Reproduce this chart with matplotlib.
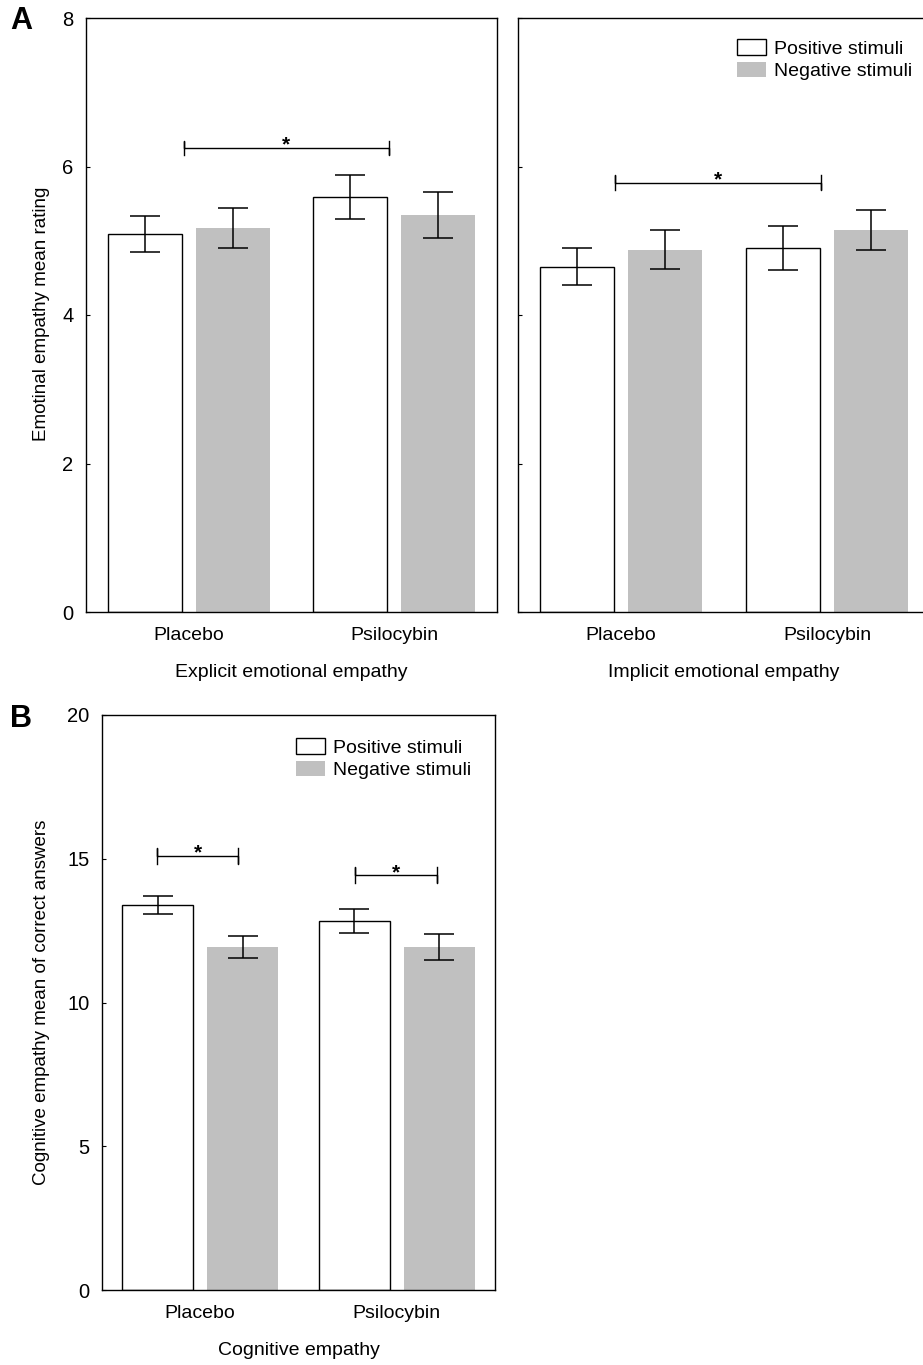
import matplotlib
matplotlib.use("Agg")
import matplotlib.pyplot as plt
from matplotlib.patches import Patch

plt.rcParams['font.family'] = ['Liberation Sans', 'DejaVu Sans']

# data
groups = ['Placebo', 'Psilocybin']
series = ['Positive stimuli', 'Negative stimuli']

explicit_pos = [5.09, 5.59]
explicit_pos_err = [0.24, 0.30]
explicit_neg = [5.17, 5.35]
explicit_neg_err = [0.27, 0.31]

implicit_pos = [4.65, 4.90]
implicit_pos_err = [0.25, 0.30]
implicit_neg = [4.88, 5.14]
implicit_neg_err = [0.26, 0.27]

cognitive_pos = [13.39, 12.83]
cognitive_pos_err = [0.31, 0.42]
cognitive_neg = [11.93, 11.93]
cognitive_neg_err = [0.38, 0.45]

W, H = 923, 1365
GRAY = '#c0c0c0'
FS = 14

fig = plt.figure(figsize=(W / 100, H / 100), dpi=100)


def px_axes(left, right, top, bottom):
    return fig.add_axes([left / W, 1 - bottom / H, (right - left) / W, (bottom - top) / H])


def bars(ax, pos, pos_err, neg, neg_err, off=0.213, width=0.36):
    x = [0, 1]
    ekw = dict(capsize=11, elinewidth=1.1, capthick=1.1, ecolor='black')
    ax.bar([i - off for i in x], pos, width, yerr=pos_err, color='white',
           edgecolor='black', linewidth=1.0, error_kw=ekw, zorder=2)
    ax.bar([i + off for i in x], neg, width, yerr=neg_err, color=GRAY,
           edgecolor='none', error_kw=ekw, zorder=2)
    ax.set_xlim(-0.5, 1.5)
    ax.set_xticks(x)
    ax.set_xticklabels(groups, fontsize=FS)
    ax.tick_params(axis='x', length=0, pad=11)
    ax.tick_params(axis='y', direction='in', length=3, labelsize=FS + 0.5, pad=9)
    for s in ax.spines.values():
        s.set_linewidth(1.0)


def bracket(ax, x0, x1, y, h):
    ax.plot([x0, x0, x0, x1, x1, x1], [y - h, y + h, y, y, y - h, y + h],
            color='black', lw=1.0, zorder=3)
    ax.annotate('*', xy=((x0 + x1) / 2, y), xytext=(0, -2), textcoords='offset points',
                ha='center', va='baseline', fontsize=FS + 1, fontweight='bold')


def legend(ax, x, y):
    handles = [Patch(facecolor='white', edgecolor='black', linewidth=1.0),
               Patch(facecolor=GRAY, edgecolor='none')]
    ax.legend(handles, series, loc='upper left', bbox_to_anchor=(x / W, 1 - y / H),
              bbox_transform=fig.transFigure, frameon=False, fontsize=FS,
              handlelength=1.5, handleheight=0.88, handletextpad=0.4,
              labelspacing=0.2, borderpad=0, borderaxespad=0)


# Panel A left
ax1 = px_axes(86, 497, 18, 612)
bars(ax1, explicit_pos, explicit_pos_err, explicit_neg, explicit_neg_err)
ax1.set_ylim(0, 8)
ax1.set_yticks([0, 2, 4, 6, 8])
ax1.set_xlabel('Explicit emotional empathy', fontsize=FS, labelpad=14)
bracket(ax1, -0.025, 0.975, 6.25, 0.1)

# Panel A right
ax2 = px_axes(518, 930, 18, 612)
bars(ax2, implicit_pos, implicit_pos_err, implicit_neg, implicit_neg_err)
ax2.set_ylim(0, 8)
ax2.set_yticks([0, 2, 4, 6, 8])
ax2.set_yticklabels([])
ax2.set_xlabel('Implicit emotional empathy', fontsize=FS, labelpad=14)
bracket(ax2, -0.03, 0.97, 5.78, 0.1)
legend(ax2, 737, 39)

# Panel B
ax3 = px_axes(102, 495, 715, 1290)
bars(ax3, cognitive_pos, cognitive_pos_err, cognitive_neg, cognitive_neg_err, off=0.216)
ax3.set_ylim(0, 20)
ax3.set_yticks([0, 5, 10, 15, 20])
ax3.set_xlabel('Cognitive empathy', fontsize=FS, labelpad=14)
bracket(ax3, -0.218, 0.193, 15.1, 0.28)
bracket(ax3, 0.787, 1.203, 14.43, 0.28)
legend(ax3, 296, 738)

fig.text(42 / W, 1 - 314 / H, 'Emotinal empathy mean rating', rotation=90,
         ha='center', va='center', fontsize=13.5)
fig.text(42 / W, 1 - 1002 / H, 'Cognitive empathy mean of correct answers', rotation=90,
         ha='center', va='center', fontsize=13.5)
fig.text(10 / W, 1 - 21 / H, 'A', fontsize=22, fontweight='bold', va='center', ha='left')
fig.text(10 / W, 1 - 719 / H, 'B', fontsize=22, fontweight='bold', va='center', ha='left')

fig.savefig('out.png', dpi=100)
